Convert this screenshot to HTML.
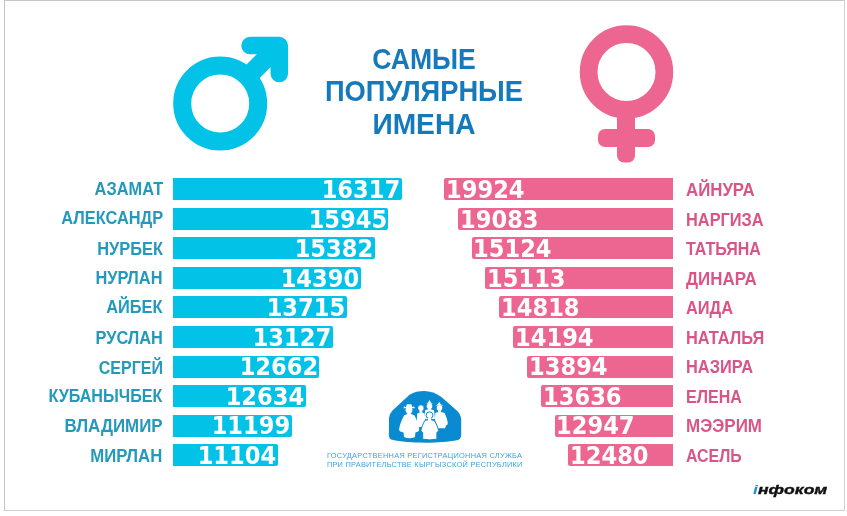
<!DOCTYPE html>
<html lang="ru">
<head>
<meta charset="utf-8">
<title>Самые популярные имена</title>
<style>
html,body{margin:0;padding:0;background:#fff;}
body{width:847px;height:516px;position:relative;overflow:hidden;font-family:"Liberation Sans",sans-serif;}
.frame{position:absolute;left:4px;top:0;width:839px;height:509px;border:1px solid #c6c6c6;border-right-color:#d0d0d0;border-bottom-color:#d0d0d0;}
.title{position:absolute;left:123.6px;width:600px;height:32px;line-height:32px;text-align:center;color:#1679bb;font-weight:bold;font-size:30px;white-space:nowrap;transform-origin:50% 50%;}
.bar{position:absolute;border-radius:2px;height:22px;}
.m{background:#03c2e8;border-radius:0 2px 2px 0;}
.f{background:#ec6691;border-radius:2px 0 0 2px;}
.num{position:absolute;top:0.8px;height:22px;line-height:22px;color:#fff;font-family:"DejaVu Sans",sans-serif;font-weight:bold;font-size:24.5px;white-space:nowrap;}
.m .num{right:1.5px;transform:scaleX(0.922);transform-origin:100% 50%;}
.f .num{left:1.8px;transform:scaleX(0.922);transform-origin:0 50%;}
.lab{position:absolute;height:22px;line-height:22px;font-weight:bold;font-size:18.2px;white-space:nowrap;}
.lm{right:684.3px;margin-top:0.4px;color:#2399bc;text-align:right;transform:scaleX(0.9);transform-origin:100% 50%;}
.lf{left:686.2px;margin-top:0.7px;color:#d95586;transform:scaleX(0.9);transform-origin:0 50%;}
.org{position:absolute;left:326.9px;width:400px;color:#3ba3de;font-size:7.4px;line-height:8px;white-space:nowrap;transform-origin:0 0;}
.info{position:absolute;left:752.5px;top:481.5px;font-weight:bold;font-style:italic;font-size:13.5px;line-height:16px;color:#111;white-space:nowrap;transform:scaleX(1.3);transform-origin:0 0;-webkit-text-stroke:0.4px #111;}
.info b{color:#1b8fd0;-webkit-text-stroke:0;}
svg{position:absolute;left:0;top:0;}
</style>
</head>
<body>
<div class="frame"></div>
<svg width="847" height="516" viewBox="0 0 847 516">
<g fill="none" stroke="#03c2e8" stroke-linecap="round" stroke-linejoin="round">
<circle cx="220.2" cy="103.6" r="38" stroke-width="18"/>
<path d="M247 77.4 L276.3 48.1" stroke-width="19" stroke-linecap="butt"/>
<path d="M250 45.6 H279.3 V73.5" stroke-width="17.5"/>
</g>
<g fill="#ec6691">
<circle cx="626.5" cy="71.9" r="37.85" fill="none" stroke="#ec6691" stroke-width="17.7"/>
<rect x="617" y="105" width="18" height="57.5" rx="7"/>
<rect x="598" y="129" width="57" height="18" rx="7"/>
</g>
<g id="logo">
<path d="M424.3 390.9 C430 390.9 436 393 441.4 397.1 L457 410.8 Q460.5 414 461.2 419.5 L461.2 435 Q461 439.5 457 440.3 C440 443.6 408 443.6 392 439.8 Q389 439 388.9 435 L389 418 Q389.5 413.5 392.5 410.5 L409.5 394.7 C414 391.8 419 390.9 424.3 390.9 Z" fill="#0a8ad0"/>
<g fill="#fff">
<path d="M403.2 408.2 L404.2 406.6 L405.9 406.9 L406.9 404.2 L411.3 404.2 L412.3 406.9 L414 406.6 L415 408.2 Z"/>
<circle cx="409" cy="410.2" r="3.4"/>
<path d="M404.2 415.2 Q409 413 414.3 415.2 C416.5 419 418.5 424 419.2 428.5 Q419.6 431.3 417.5 431.8 L415.4 432.6 L415 437 Q409.5 439.5 404 437 L403.6 432.6 L401.3 431.8 Q398.8 431.3 399.2 428.5 C400 424 402 419 404.2 415.2 Z"/>
<circle cx="420.9" cy="407.9" r="2.7"/>
<path d="M417.2 413.5 Q420.9 411.5 424.6 413.5 L425.8 427 L416.5 427 Z"/>
<path d="M426.2 403.8 L428.2 402.6 L429.5 399.8 L430.8 402.6 L433 403.8 Z"/>
<circle cx="429.5" cy="406.2" r="2.8"/>
<path d="M425.2 410.3 Q429.5 408 434 410.3 L435 419 L424.3 419 Z"/>
<path d="M435.2 405.6 L437.5 404.6 L439.2 402 L441 404.6 L443.8 405.6 Z"/>
<circle cx="439.5" cy="408" r="2.8"/>
<path d="M435.2 413 Q439.7 410.8 444.6 413 C446.5 417 447.6 420.5 447.8 423.6 Q447.8 425.2 446 425.4 L445 428.2 L438 428.2 L435 420 Z"/>
<g stroke="#0a8ad0" stroke-width="1">
<path d="M424.8 420.6 Q429.5 418 434.3 420.6 C436.5 424 438 427.5 438.6 430.8 L436.9 432.6 L436.9 439.2 Q429.7 440.6 422.7 439.2 L422.7 432.6 L420.9 430.8 C421.5 427.5 422.8 424 424.8 420.6 Z"/>
<circle cx="429.5" cy="415.2" r="3.4"/>
</g>
<rect x="407.2" y="412" width="3.6" height="4"/>
<rect x="419.5" y="409.5" width="2.8" height="4"/>
<rect x="428.1" y="408" width="2.8" height="3"/>
<rect x="438.1" y="410" width="2.8" height="3.5"/>
<rect x="428" y="417.6" width="3" height="3.4"/>
</g>
</g>
</svg>
<div class="title" style="top:42.9px;transform:scaleX(0.8865)">САМЫЕ</div>
<div class="title" style="top:75.4px;transform:scaleX(0.9105)">ПОПУЛЯРНЫЕ</div>
<div class="title" style="top:108.0px;transform:scaleX(0.9384)">ИМЕНА</div>
<div class="lab lm" style="top:178.20px;margin-top:-0.2px">АЗАМАТ</div><div class="bar m" style="left:172.5px;top:178.20px;width:229.70px"><div class="num">16317</div></div>
<div class="lab lm" style="top:207.75px;margin-top:-0.9px">АЛЕКСАНДР</div><div class="bar m" style="left:172.5px;top:207.75px;width:215.90px"><div class="num">15945</div></div>
<div class="lab lm" style="top:237.30px">НУРБЕК</div><div class="bar m" style="left:172.5px;top:237.30px;width:202.10px"><div class="num">15382</div></div>
<div class="lab lm" style="top:266.85px">НУРЛАН</div><div class="bar m" style="left:172.5px;top:266.85px;width:188.30px"><div class="num">14390</div></div>
<div class="lab lm" style="top:296.40px;margin-top:-0.5px">АЙБЕК</div><div class="bar m" style="left:172.5px;top:296.40px;width:174.50px"><div class="num">13715</div></div>
<div class="lab lm" style="top:325.95px;margin-top:1.2px">РУСЛАН</div><div class="bar m" style="left:172.5px;top:325.95px;width:160.70px"><div class="num">13127</div></div>
<div class="lab lm" style="top:355.50px;transform:scaleX(0.88);margin-top:1.3px">СЕРГЕЙ</div><div class="bar m" style="left:172.5px;top:355.50px;width:146.90px"><div class="num">12662</div></div>
<div class="lab lm" style="top:385.05px;transform:scaleX(0.888)">КУБАНЫЧБЕК</div><div class="bar m" style="left:172.5px;top:385.05px;width:133.10px"><div class="num">12634</div></div>
<div class="lab lm" style="top:414.60px;transform:scaleX(0.93)">ВЛАДИМИР</div><div class="bar m" style="left:172.5px;top:414.60px;width:119.30px"><div class="num">11199</div></div>
<div class="lab lm" style="top:444.15px;transform:scaleX(0.92)">МИРЛАН</div><div class="bar m" style="left:172.5px;top:444.15px;width:105.50px"><div class="num">11104</div></div>
<div class="bar f" style="left:444.00px;top:178.20px;width:229.20px"><div class="num">19924</div></div><div class="lab lf" style="top:178.20px;transform:scaleX(0.925)">АЙНУРА</div>
<div class="bar f" style="left:457.83px;top:207.75px;width:215.37px"><div class="num">19083</div></div><div class="lab lf" style="top:207.75px;margin-top:1.0px">НАРГИЗА</div>
<div class="bar f" style="left:471.66px;top:237.30px;width:201.54px"><div class="num">15124</div></div><div class="lab lf" style="top:237.30px;transform:scaleX(0.88)">ТАТЬЯНА</div>
<div class="bar f" style="left:485.49px;top:266.85px;width:187.71px"><div class="num">15113</div></div><div class="lab lf" style="top:266.85px;transform:scaleX(0.93)">ДИНАРА</div>
<div class="bar f" style="left:499.32px;top:296.40px;width:173.88px"><div class="num">14818</div></div><div class="lab lf" style="top:296.40px">АИДА</div>
<div class="bar f" style="left:513.15px;top:325.95px;width:160.05px"><div class="num">14194</div></div><div class="lab lf" style="top:325.95px">НАТАЛЬЯ</div>
<div class="bar f" style="left:526.98px;top:355.50px;width:146.22px"><div class="num">13894</div></div><div class="lab lf" style="top:355.50px">НАЗИРА</div>
<div class="bar f" style="left:540.81px;top:385.05px;width:132.39px"><div class="num">13636</div></div><div class="lab lf" style="top:385.05px;transform:scaleX(0.882)">ЕЛЕНА</div>
<div class="bar f" style="left:554.64px;top:414.60px;width:118.56px"><div class="num">12947</div></div><div class="lab lf" style="top:414.60px;transform:scaleX(0.934)">МЭЭРИМ</div>
<div class="bar f" style="left:568.47px;top:444.15px;width:104.73px"><div class="num">12480</div></div><div class="lab lf" style="top:444.15px;transform:scaleX(0.873)">АСЕЛЬ</div>
<div class="org" id="org1" style="top:452.2px;letter-spacing:0.276px">ГОСУДАРСТВЕННАЯ РЕГИСТРАЦИОННАЯ СЛУЖБА</div>
<div class="org" id="org2" style="top:460.5px;letter-spacing:0.245px">ПРИ ПРАВИТЕЛЬСТВЕ КЫРГЫЗСКОЙ РЕСПУБЛИКИ</div>
<div class="info"><b>i</b>нфоком</div>
</body>
</html>
